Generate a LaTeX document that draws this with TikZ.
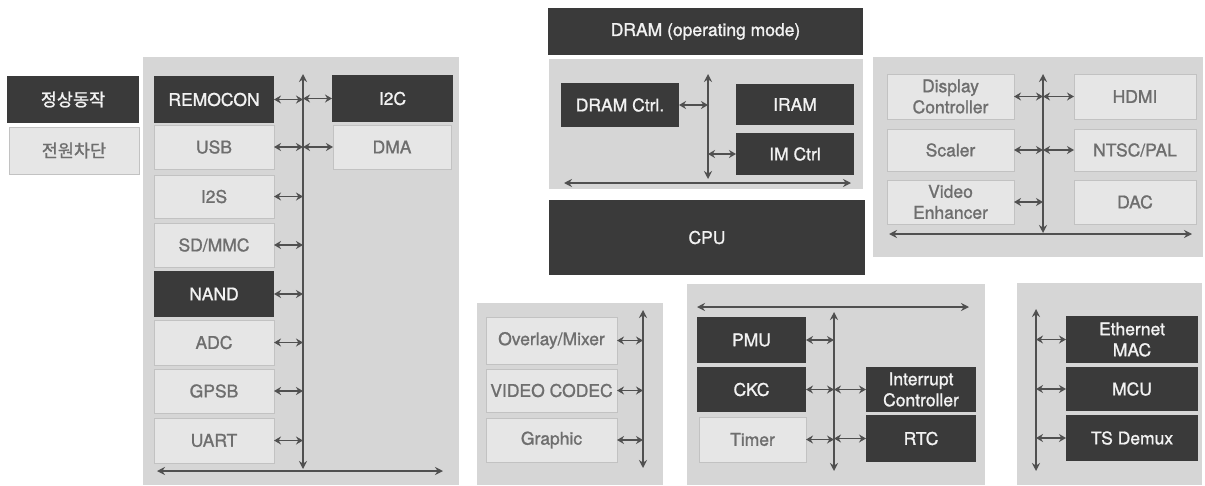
\documentclass[tikz,border=0pt]{standalone}
\usepackage{fontspec}
\setmainfont{TeX Gyre Heros}[FakeBold=1.2]
\newfontfamily\krfont{Noto Sans CJK KR}[FakeBold=1.2]
\usetikzlibrary{arrows.meta}
\definecolor{panelc}{HTML}{D6D6D6}
\definecolor{darkc}{HTML}{3A3A3A}
\definecolor{lightc}{HTML}{E6E6E6}
\definecolor{lightb}{HTML}{C2C2C2}
\definecolor{ltext}{HTML}{6E6E6E}
\definecolor{dtext}{HTML}{F2F2F2}
\definecolor{busc}{HTML}{505050}
\newcommand\mybox[7]{\node[#1, anchor=north west, minimum width={(#5-#3)*1pt}, minimum height={(#6-#4)*1pt}] (#2) at (#3,#4) {#7};}
\begin{document}
\begin{tikzpicture}[x=1pt,y=-1pt,
  base/.style={inner sep=0pt, outer sep=0pt, align=center, font=\fontsize{17.5}{21}\selectfont},
  dbox/.style={base, fill=darkc, text=dtext},
  lbox/.style={base, fill=lightc, draw=lightb, line width=1pt, text=ltext},
  panel/.style={base, fill=panelc},
  bus/.style={draw=busc, line width=2pt, {Stealth[length=8pt,width=8pt]}-{Stealth[length=8pt,width=8pt]}},
  link/.style={draw=busc, line width=1.8pt, {Stealth[length=7pt,width=8pt]}-{Stealth[length=7pt,width=8pt]}}]
\useasboundingbox (0,0) rectangle (1205,485);
\fill[white] (0,0) rectangle (1205,485);
% legend
\mybox{dbox}{normal}{7}{76}{139}{123}{\krfont 정상동작}
\mybox{lbox}{off}{9}{127}{139}{174}{\krfont 전원차단}
% left panel
\mybox{panel}{pL}{143}{57}{459}{485}{}
\mybox{dbox}{remocon}{154}{76}{274}{123}{REMOCON}
\mybox{lbox}{usb}{154}{125}{274}{169}{USB}
\mybox{lbox}{iis}{154}{175}{274}{218}{I2S}
\mybox{lbox}{sdmmc}{154}{223}{274}{267}{SD/MMC}
\mybox{dbox}{nand}{154}{271}{274}{317}{NAND}
\mybox{lbox}{adc}{154}{320}{274}{365}{ADC}
\mybox{lbox}{gpsb}{154}{369}{274}{413}{GPSB}
\mybox{lbox}{uart}{154}{418}{274}{463}{UART}
\mybox{dbox}{iic}{332}{75}{453}{122}{I2C}
\mybox{lbox}{dma}{333}{125}{451}{169}{DMA}
\coordinate (LvT) at (303,74);
\coordinate (LvB) at (303,469);
\coordinate (LhL) at (157,471);
\coordinate (LhR) at (443,471);
\draw[bus] (LvT) -- (LvB);
\draw[bus] (LhL) -- (LhR);
\foreach \n in {remocon,usb,iis,sdmmc,nand,adc,gpsb,uart}
  \draw[link] (\n.east) -- (\n.east -| LvT);
\foreach \n in {iic,dma}
  \draw[link] (\n.west -| LvT) -- (\n.west);
% middle
\mybox{dbox}{dram}{548}{8}{863}{55}{DRAM (operating mode)}
\mybox{panel}{pM}{549}{59}{863}{189}{}
\mybox{dbox}{dramctrl}{561}{83}{679}{127}{DRAM Ctrl.}
\mybox{dbox}{iram}{736}{84}{854}{125}{IRAM}
\mybox{dbox}{imctrl}{736}{133}{854}{175}{IM Ctrl}
\mybox{dbox}{cpu}{549}{200}{865}{275}{CPU}
\coordinate (MvT) at (708,74);
\coordinate (MvB) at (708,179);
\coordinate (MhL) at (564,183);
\coordinate (MhR) at (851,183);
\draw[bus] (MvT) -- (MvB);
\draw[bus] (MhL) -- (MhR);
\draw[link] (dramctrl.east) -- (dramctrl.east -| MvT);
\draw[link] (imctrl.west -| MvT) -- (imctrl.west);
% display panel
\mybox{panel}{pD}{873}{57}{1203}{257}{}
\mybox{lbox}{dispctrl}{887}{74}{1014}{119}{Display\\Controller}
\mybox{lbox}{scaler}{887}{129}{1014}{171}{Scaler}
\mybox{lbox}{venh}{887}{180}{1014}{224}{Video\\Enhancer}
\mybox{lbox}{hdmi}{1074}{74}{1196}{119}{HDMI}
\mybox{lbox}{ntsc}{1074}{129}{1196}{171}{NTSC/PAL}
\mybox{lbox}{dac}{1074}{180}{1196}{224}{DAC}
\coordinate (DvT) at (1043,74);
\coordinate (DvB) at (1043,233);
\coordinate (DhL) at (889,234);
\coordinate (DhR) at (1192,234);
\draw[bus] (DvT) -- (DvB);
\draw[bus] (DhL) -- (DhR);
\foreach \n in {dispctrl,scaler,venh}
  \draw[link] (\n.east) -- (\n.east -| DvT);
\foreach \n in {hdmi,ntsc}
  \draw[link] (\n.west -| DvT) -- (\n.west);
% panel A
\mybox{panel}{pA}{477}{303}{663}{485}{}
\mybox{lbox}{overlay}{486}{317}{617}{364}{Overlay/Mixer}
\mybox{lbox}{vcodec}{486}{369}{617}{412}{VIDEO CODEC}
\mybox{lbox}{graphic}{486}{418}{617}{462}{Graphic}
\coordinate (AvT) at (643,310);
\coordinate (AvB) at (643,468);
\draw[bus] (AvT) -- (AvB);
\foreach \n in {overlay,vcodec,graphic}
  \draw[link] (\n.east) -- (\n.east -| AvT);
% panel B
\mybox{panel}{pB}{687}{284}{985}{485}{}
\mybox{dbox}{pmu}{697}{317}{806}{363}{PMU}
\mybox{dbox}{ckc}{697}{367}{806}{412}{CKC}
\mybox{lbox}{timer}{699}{417}{806}{462}{Timer}
\mybox{dbox}{intc}{866}{367}{976}{412}{Interrupt\\Controller}
\mybox{dbox}{rtc}{866}{415}{976}{462}{RTC}
\coordinate (BhL) at (697,307);
\coordinate (BhR) at (969,307);
\coordinate (BvT) at (834,312);
\coordinate (BvB) at (834,471);
\draw[bus] (BhL) -- (BhR);
\draw[bus] (BvT) -- (BvB);
\foreach \n in {pmu,ckc,timer}
  \draw[link] (\n.east) -- (\n.east -| BvT);
\foreach \n in {intc,rtc}
  \draw[link] (\n.west -| BvT) -- (\n.west);
% panel C
\mybox{panel}{pC}{1017}{283}{1202}{485}{}
\mybox{dbox}{eth}{1066}{316}{1198}{363}{Ethernet\\MAC}
\mybox{dbox}{mcu}{1066}{367}{1198}{411}{MCU}
\mybox{dbox}{tsdemux}{1066}{415}{1198}{461}{TS Demux}
\coordinate (CvT) at (1036,309);
\coordinate (CvB) at (1036,471);
\draw[bus] (CvT) -- (CvB);
\foreach \n in {eth,mcu,tsdemux}
  \draw[link] (\n.west -| CvT) -- (\n.west);
\end{tikzpicture}
\end{document}
